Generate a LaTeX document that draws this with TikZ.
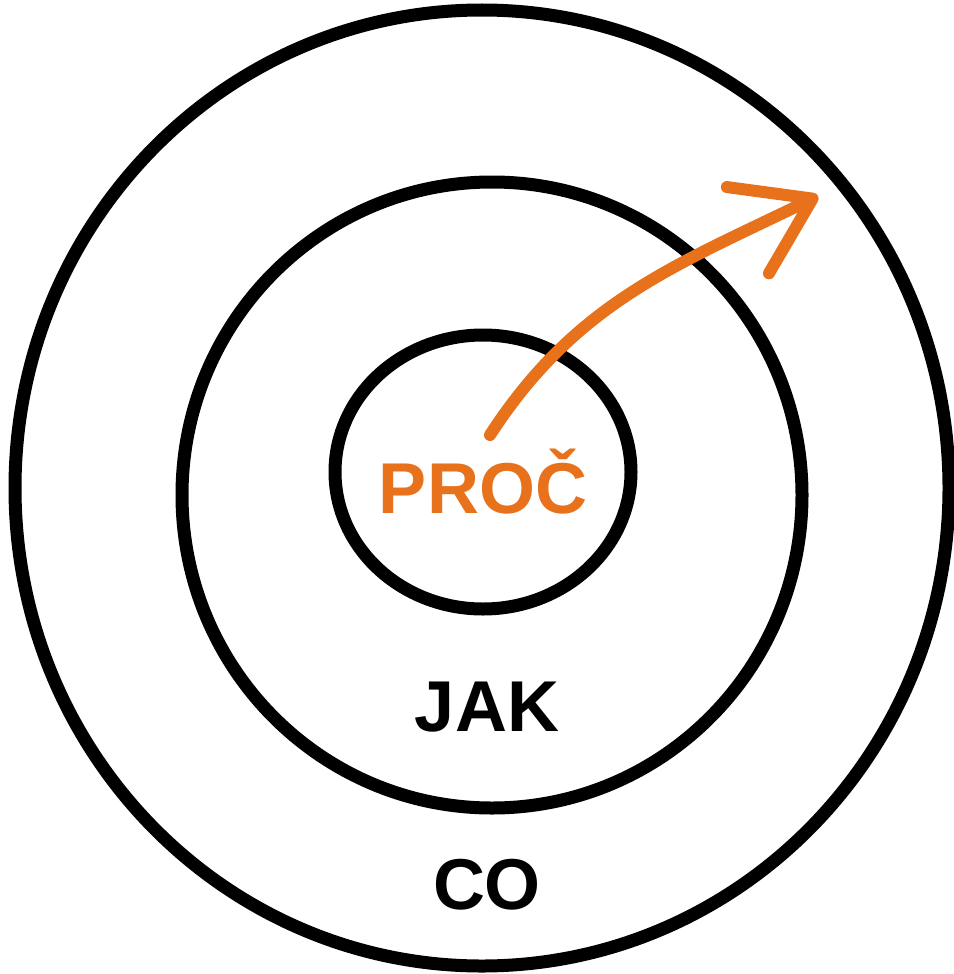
\documentclass[tikz,border=0pt]{standalone}
\usepackage{fontspec}
\setmainfont{Liberation Sans}
\usepackage{tikz}
\usetikzlibrary{shapes.geometric, arrows.meta}
\definecolor{pen}{RGB}{232,114,28}
\newcommand*{\word}[1]{\fontsize{72}{72}\selectfont\bfseries #1}

\begin{document}
\begin{tikzpicture}[x=1pt, y=-1pt]
      \useasboundingbox (0,0) rectangle (953,974);

      {\tikzstyle{every node}=[ellipse, draw, line width=13pt, inner sep=0pt]
        \foreach \n/\x/\y/\rx/\ry in {outer/482/488/467/478, middle/492/495/310/313, inner/483/472/148/137}
        {
          \node (\n) [minimum width=2*\rx pt, minimum height=2*\ry pt] at (\x, \y) {};
        }
      }

      \node [text=pen] (why) at (483, 482) {\word{PROČ}};
      \node (how) at (487, 707) {\word{JAK}};
      \node (what) at (487, 885) {\word{CO}};

      \coordinate (start) at (490, 435);
      \coordinate (tip) at (818, 196);

      \draw [pen, line width=12pt, line cap=round,
             -{Straight Barb[length=72pt, width=96pt, line width=12pt, round]}]
        (start) to [out=57, in=206] (tip);
    \end{tikzpicture}
\end{document}
